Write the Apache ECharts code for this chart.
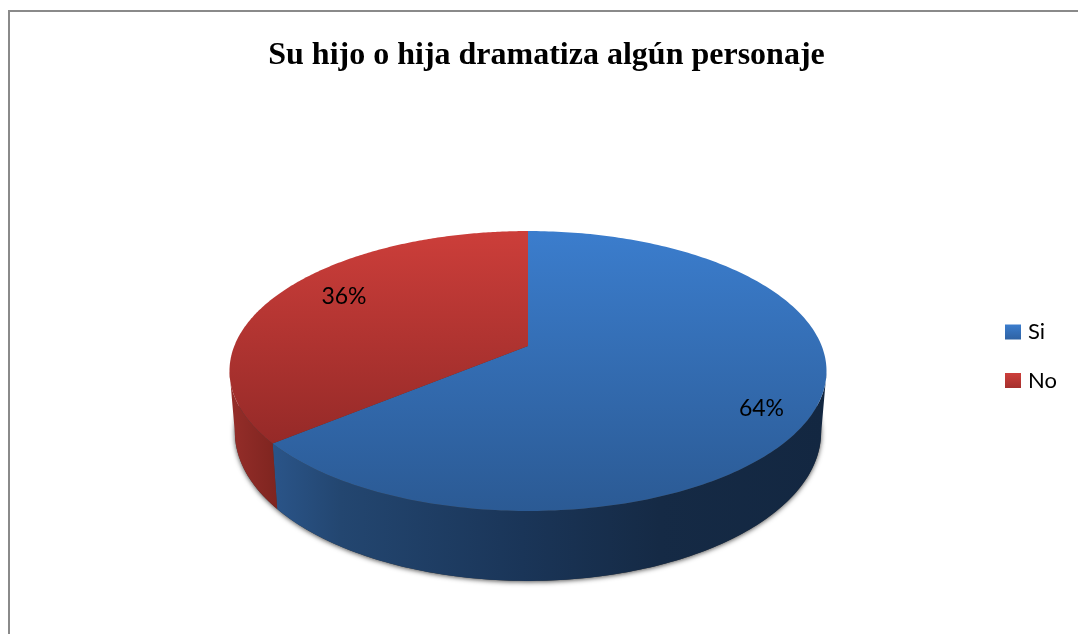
<!DOCTYPE html>
<html>
<head>
<meta charset="utf-8">
<script src="https://cdn.jsdelivr.net/npm/echarts@6/dist/echarts.min.js"></script>
<style>
  html, body { margin: 0; padding: 0; background: #fff; }
  #chart1 { width: 1078px; height: 634px; }
</style>
</head>
<body>
<div id="chart1"></div>
<script>
const titleText = 'Su hijo o hija dramatiza algún personaje';
const categories = ['Si', 'No'];
const percentValues = [64, 36];

// perspective of the tilted disc
const cx = 528, apexY = 346, baseApexY = 405.4;
const radiusX = 293.7, radiusY = 135.5, tilt = 0.1786;
const baseScaleX = 0.982, baseScaleY = 1.064;

// look of each slice
const topColors = [['#3b7dcd', '#2b5a94'], ['#cc3e3a', '#962a28']];
const topRange = [[231, 511], [231, 441]];
const sideStops = [
  [[0, '#2a5488'], [0.12, '#234670'], [0.45, '#1a3558'], [0.7, '#152a45'], [1, '#132741']],
  [[0, '#942d29'], [1, '#7d241f']]
];
const sideRange = [[275, 825], [232, 280]];
const legendColors = [['#3b7dcd', '#2f62a3'], ['#cd3f3b', '#a5302d']];
const labelAnchor = [[0.85, -8, 10], [0.75, 4.5, -8]];

const chart = echarts.init(document.getElementById('chart1'));

function project(theta, f, base) {
  const u = Math.sin(theta) * f, v = -Math.cos(theta) * f, w = 1 - tilt * v;
  const sx = base ? baseScaleX : 1, sy = base ? baseScaleY : 1;
  return [cx + sx * radiusX * u / w, (base ? baseApexY : apexY) + sy * radiusY * v / w];
}

function sliceAngles(idx) {
  const total = percentValues.reduce((a, b) => a + b, 0);
  const before = percentValues.slice(0, idx).reduce((a, b) => a + b, 0);
  return [before / total * Math.PI * 2, (before + percentValues[idx]) / total * Math.PI * 2];
}

function rim(t0, t1, base) {
  const pts = [];
  const steps = 240;
  for (let i = 0; i <= steps; i++) {
    pts.push(project(t0 + (t1 - t0) * i / steps, 1, base));
  }
  return pts;
}

function renderSlice(params) {
  const idx = params.seriesIndex;
  const [t0, t1] = sliceAngles(idx);
  const children = [];

  // soft shadow under the disc
  if (idx === 0) {
    children.push({
      type: 'polygon',
      shape: { points: rim(0, Math.PI * 2, true) },
      style: { fill: '#3a3a3a', shadowColor: 'rgba(0,0,0,0.7)', shadowBlur: 5, shadowOffsetY: 1 }
    });
  }

  // front wall, only where the rim faces the viewer
  const front = [];
  for (let i = 0; i <= 240; i++) {
    const t = t0 + (t1 - t0) * i / 240;
    if (-Math.cos(t) >= tilt) front.push(t);
  }
  const topEdge = front.map(t => project(t, 1, false));
  const baseEdge = front.map(t => project(t, 1, true)).reverse();
  children.push({
    type: 'polygon',
    shape: { points: topEdge.concat(baseEdge) },
    style: {
      fill: {
        type: 'linear', global: true,
        x: sideRange[idx][0], y: 0, x2: sideRange[idx][1], y2: 0,
        colorStops: sideStops[idx].map(s => ({ offset: s[0], color: s[1] }))
      }
    }
  });

  // top face
  children.push({
    type: 'polygon',
    shape: { points: [project(0, 0, false)].concat(rim(t0, t1, false)) },
    style: {
      fill: {
        type: 'linear', global: true,
        x: 0, y: topRange[idx][0], x2: 0, y2: topRange[idx][1],
        colorStops: [
          { offset: 0, color: topColors[idx][0] },
          { offset: 1, color: topColors[idx][1] }
        ]
      }
    }
  });

  // percent label
  const mid = (t0 + t1) / 2;
  const p = project(mid, labelAnchor[idx][0], false);
  children.push({
    type: 'text',
    z2: 10,
    style: {
      text: percentValues[idx] + '%',
      x: p[0] + labelAnchor[idx][1],
      y: p[1] + labelAnchor[idx][2],
      fill: '#000',
      font: '23px Lato',
      align: 'center',
      verticalAlign: 'middle'
    }
  });

  return { type: 'group', children };
}

chart.setOption({
  animation: false,
  title: {
    text: titleText,
    left: 541.5,
    top: 35,
    textAlign: 'center',
    textStyle: { fontFamily: 'Liberation Serif', fontWeight: 'bold', fontSize: 32, color: '#000' }
  },
  legend: {
    orient: 'vertical',
    left: 1005,
    top: 321,
    padding: 0,
    icon: 'rect',
    itemWidth: 16,
    itemHeight: 15,
    itemGap: 26.5,
    itemStyle: { borderWidth: 0 },
    textStyle: { fontFamily: 'Lato', fontSize: 22, color: '#000', padding: [0, 0, 0, 2] },
    selectedMode: false,
    data: categories.map((name, i) => ({
      name,
      itemStyle: {
        color: {
          type: 'linear', x: 0, y: 0, x2: 0, y2: 1,
          colorStops: [
            { offset: 0, color: legendColors[i][0] },
            { offset: 1, color: legendColors[i][1] }
          ]
        }
      }
    }))
  },
  graphic: [{
    type: 'rect',
    silent: true,
    shape: { x: 9, y: 11, width: 1300, height: 800 },
    style: { fill: null, stroke: '#8a8a8a', lineWidth: 2 }
  }],
  series: categories.map((name, i) => ({
    name,
    type: 'custom',
    coordinateSystem: 'none',
    silent: true,
    itemStyle: { color: topColors[i][0] },
    renderItem: renderSlice,
    data: [[percentValues[i]]]
  }))
});
</script>
</body>
</html>
